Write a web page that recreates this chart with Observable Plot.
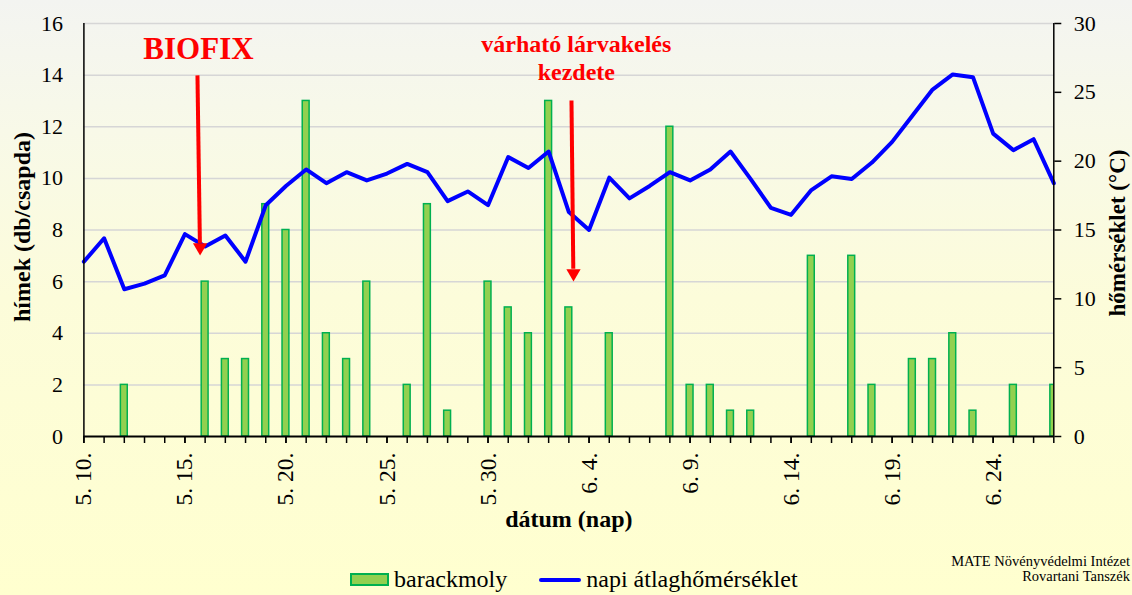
<!DOCTYPE html>
<html>
<head>
<meta charset="utf-8">
<script src="https://cdn.jsdelivr.net/npm/d3@7"></script>
<script src="https://cdn.jsdelivr.net/npm/@observablehq/plot@0.6"></script>
<style>
  html, body { margin: 0; padding: 0; overflow: hidden; }
  #page {
    position: relative; width: 1132px; height: 595px; overflow: hidden;
    background: linear-gradient(to bottom, #f3f4f1 0%, #f8f9e8 22%, #fcfcda 50%, #ffffcf 100%);
    font-family: "Liberation Serif", "Times New Roman", serif; color: #000;
  }
  #chart { position: absolute; left: 0; top: 0; }
  .ylab { position: absolute; font-weight: bold; white-space: nowrap; transform: translate(-50%, -50%) rotate(-90deg); }
  .legend { position: absolute; top: 566px; left: 350px; font-size: 24px; display: flex; align-items: center; white-space: nowrap; }
  .sw { display: inline-block; width: 35px; height: 9px; background: #92d050; border: 2px solid #00b050; margin-right: 5px; }
  .ln { display: inline-block; width: 42px; height: 4px; background: #0000ff; margin-left: 32px; margin-right: 5px; border-radius: 2px; }
  .credit { position: absolute; top: 554px; right: 2px; font-size: 14.5px; line-height: 15px; text-align: right; white-space: nowrap; }
</style>
</head>
<body>
<div id="page">
  <div id="chart"></div>
  <div class="ylab" style="left:22px; top:227px; font-size:24px;">hímek (db/csapda)</div>
  <div class="ylab" style="left:1118px; top:233px; font-size:23px;">hőmérséklet (°C)</div>
  <div class="legend"><span class="sw"></span>barackmoly<span class="ln"></span>napi átlaghőmérséklet</div>
  <div class="credit">MATE Növényvédelmi Intézet<br>Rovartani Tanszék</div>
</div>
<script>
// dates (day index 0 = 5.10 ... 48 = 6.27)
const dates = ["5.10","5.11","5.12","5.13","5.14","5.15","5.16","5.17","5.18","5.19",
  "5.20","5.21","5.22","5.23","5.24","5.25","5.26","5.27","5.28","5.29",
  "5.30","5.31","6.1","6.2","6.3","6.4","6.5","6.6","6.7","6.8",
  "6.9","6.10","6.11","6.12","6.13","6.14","6.15","6.16","6.17","6.18",
  "6.19","6.20","6.21","6.22","6.23","6.24","6.25","6.26","6.27"];
// barackmoly males per trap
const moths = [0,0,2,0,0,0,6,3,3,9,
  8,13,4,3,6,0,2,9,1,0,
  6,5,4,13,5,0,4,0,0,12,
  2,2,1,1,0,0,7,0,7,2,
  0,3,3,4,1,0,2,0,2];
// daily mean temperature (°C)
const temps = [12.7,14.4,10.7,11.1,11.7,14.7,13.8,14.6,12.7,16.8,
  18.2,19.4,18.4,19.2,18.6,19.1,19.8,19.2,17.1,17.8,
  16.8,20.3,19.5,20.7,16.3,15.0,18.8,17.3,18.2,19.2,
  18.6,19.4,20.7,18.7,16.6,16.1,17.9,18.9,18.7,19.9,
  21.4,23.3,25.2,26.3,26.1,22.0,20.8,21.6,18.4];
const xTickIdx = [0,5,10,15,20,25,30,35,40,45];
const xTickLabels = ["5. 10.","5. 15.","5. 20.","5. 25.","5. 30.","6. 4.","6. 9.","6. 14.","6. 19.","6. 24."];
const leftTicks = [0,2,4,6,8,10,12,14,16];
const rightTicks = [0,5,10,15,20,25,30];
// annotations
const notes = [
  {x: 5.67, y: 15.07, text: "BIOFIX", size: 31},
  {x: 24.37, y: 14.7, text: "várható lárvakelés\nkezdete", size: 24}
];
const arrows = [
  {x1: 5.62, y1: 13.99, x2: 5.74, y2: 7.5, hx: 5.75, hy: 7.33},
  {x1: 24.13, y1: 13.02, x2: 24.22, y2: 6.5, hx: 24.23, hy: 6.32}
];

const T = 16 / 30; // temperature -> left-axis units
const data = dates.map((d, i) => ({i, date: d, moth: moths[i], temp: temps[i]}));

const chart = Plot.plot({
  width: 1132,
  height: 540,
  marginLeft: 83.4,
  marginRight: 78.7,
  marginTop: 23,
  marginBottom: 104,
  style: {background: "transparent", fontFamily: "'Liberation Serif', 'Times New Roman', serif", color: "#000", overflow: "visible"},
  x: {domain: [0, 48]},
  y: {domain: [0, 16]},
  marks: [
    Plot.gridY(leftTicks.slice(1), {stroke: "#d6d6d6", strokeOpacity: 1, strokeWidth: 1.5}),
    Plot.rectY(data.filter(d => d.moth > 0), {x1: d => d.i - 0.17, x2: d => d.i + 0.17, y: "moth", fill: "#92d050", stroke: "#00b050", strokeWidth: 1.5, clip: true}),
    Plot.line(data, {x: "i", y: d => d.temp * T, stroke: "#0000ff", strokeWidth: 4, strokeLinejoin: "round"}),
    Plot.link(arrows, {x1: "x1", y1: "y1", x2: "x2", y2: "y2", stroke: "#ff0000", strokeWidth: 4}),
    Plot.dot(arrows, {x: "hx", y: "hy", symbol: "triangle", r: 5.3, rotate: 180, fill: "#ff0000", stroke: "none"}),
    Plot.text(notes, {x: "x", y: "y", text: "text", fill: "#ff0000", fontWeight: "bold", fontSize: d => d.size, lineHeight: 1.15}),
    Plot.ruleY([0], {stroke: "#000", strokeWidth: 2}),
    Plot.ruleX([0], {stroke: "#000", strokeWidth: 1.5}),
    Plot.ruleX([48], {stroke: "#000", strokeWidth: 1.5}),
    Plot.axisX(d3.range(0, 49), {tickSize: 7, tickFormat: () => "", strokeWidth: 1.5, label: null}),
    Plot.axisX(xTickIdx, {tickSize: 7, tickPadding: 9, tickRotate: -90, fontSize: 23.5, tickFormat: (d) => xTickLabels[xTickIdx.indexOf(d)], label: null, strokeWidth: 1.5}),
    Plot.axisY(leftTicks, {anchor: "left", tickSize: 0, tickPadding: 21, fontSize: 22, label: null}),
    Plot.axisY(rightTicks.map(t => t * T), {anchor: "right", tickSize: 7, tickPadding: 13, fontSize: 22, tickFormat: d => Math.round(d / T), label: null, strokeWidth: 1.5}),
    Plot.text(["dátum (nap)"], {frameAnchor: "bottom", dy: 90, text: d => d, fontWeight: "bold", fontSize: 24})
  ]
});
document.getElementById("chart").appendChild(chart);
</script>
</body>
</html>
